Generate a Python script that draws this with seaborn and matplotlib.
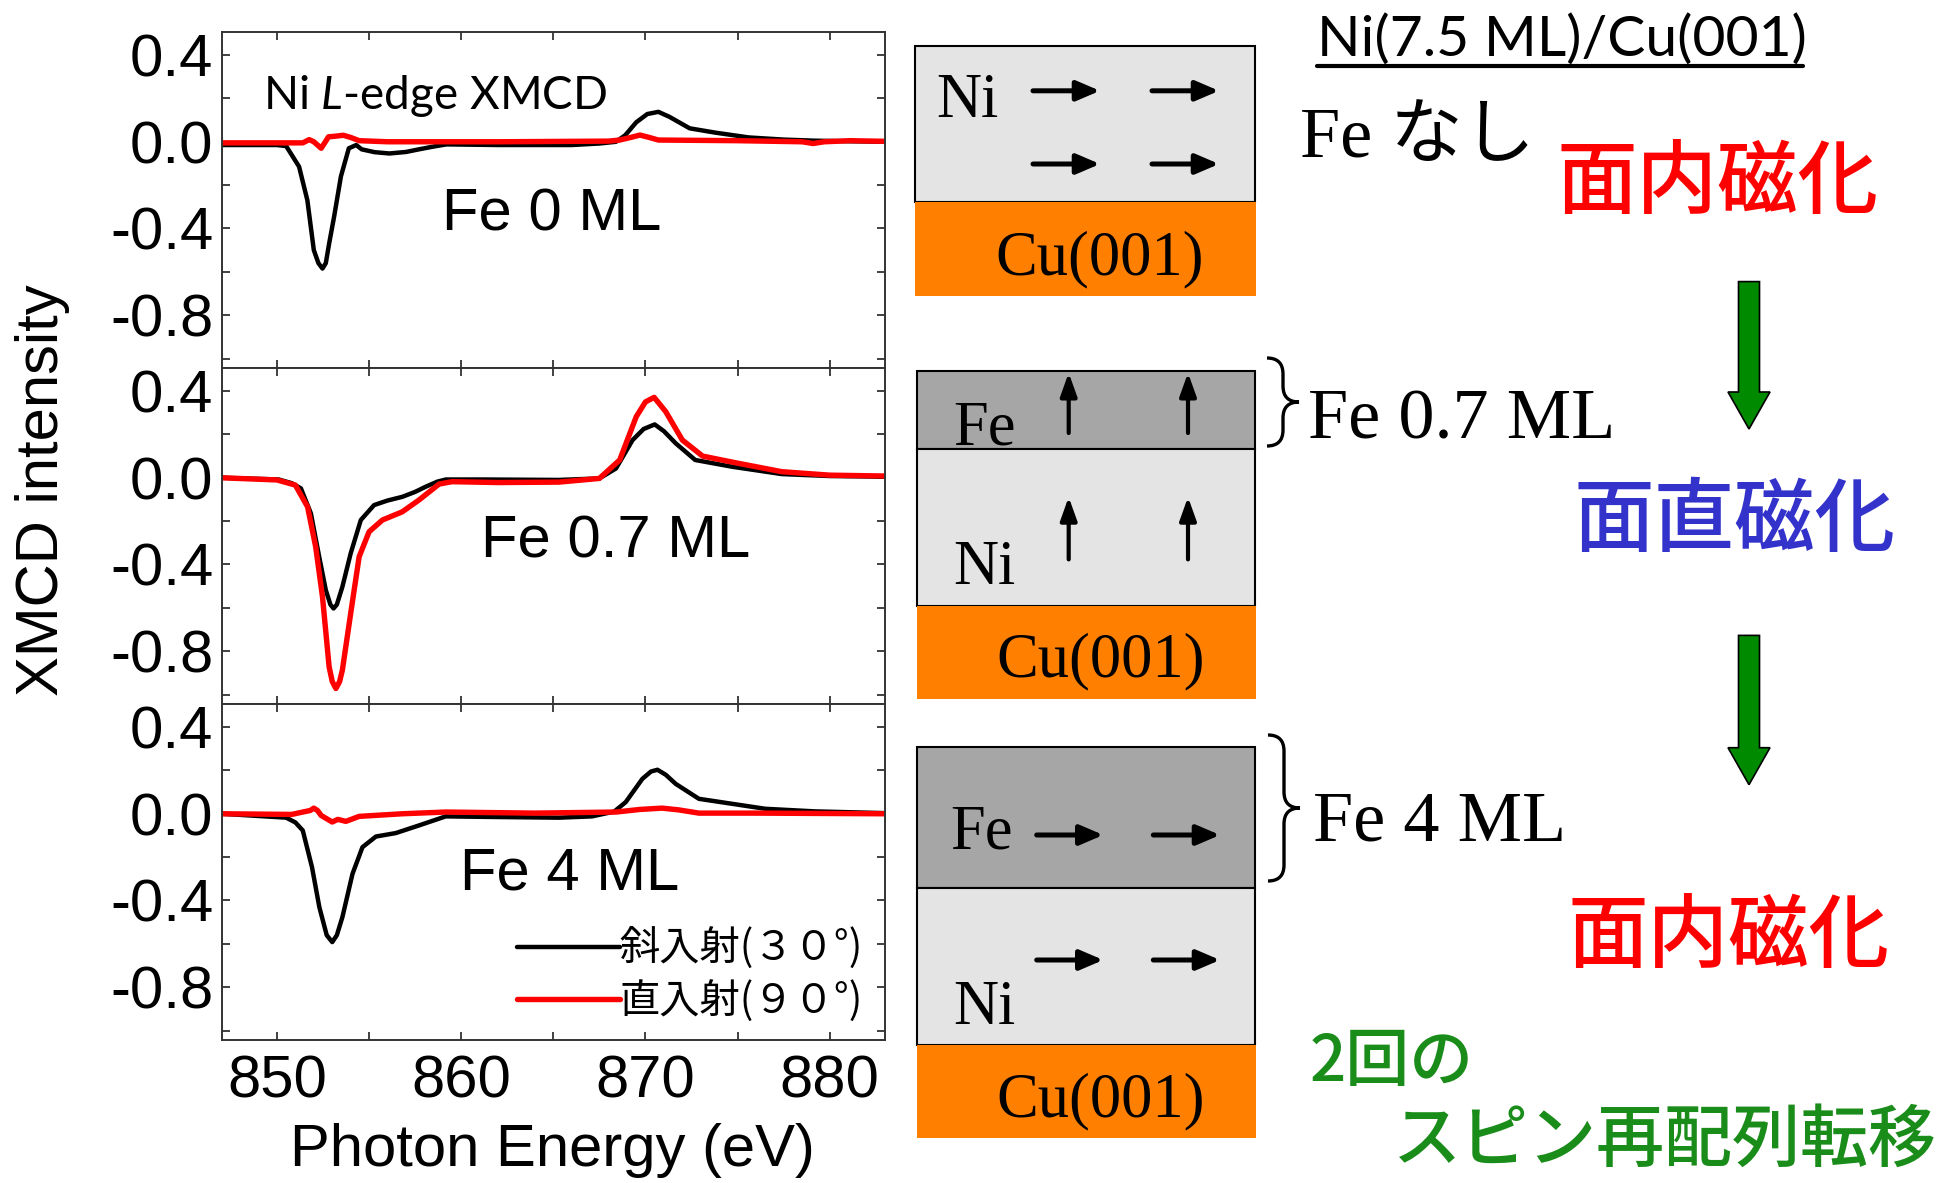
import matplotlib
matplotlib.use("Agg")
import matplotlib.pyplot as plt
from matplotlib.patches import Rectangle, FancyArrow, PathPatch
from matplotlib.path import Path
from matplotlib.ticker import MultipleLocator
import seaborn as sns

# Fe 0 ML : oblique (30 deg) and normal (90 deg) incidence
e0_obl = [847, 850.0, 850.5, 851.2, 851.65, 852.0, 852.25, 852.47, 852.65, 852.83,
          853.1, 853.47, 853.9, 854.3, 854.6, 855.3, 856.1, 857.0, 857.7, 858.5,
          859.2, 862, 866, 867.5, 868.4, 868.9, 869.5, 870.1, 870.7, 871.3,
          872.4, 873.8, 875.6, 877.5, 879.2, 883]
y0_obl = [-0.015, -0.015, -0.02, -0.115, -0.27, -0.50, -0.56, -0.585, -0.56, -0.47,
          -0.346, -0.16, -0.03, -0.015, -0.035, -0.048, -0.054, -0.047, -0.035, -0.022,
          -0.012, -0.015, -0.015, -0.008, 0.0, 0.03, 0.09, 0.128, 0.138, 0.115,
          0.062, 0.042, 0.02, 0.01, 0.005, 0.0]
e0_nor = [847, 851.0, 851.4, 851.75, 852.0, 852.4, 852.8, 853.1, 853.6, 854.0,
          854.46, 856, 862, 868.0, 868.6, 869.2, 869.7, 870.2, 870.7, 875,
          878.5, 879.1, 879.7, 881.1, 883]
y0_nor = [-0.005, -0.005, -0.005, 0.01, 0.0, -0.03, 0.023, 0.025, 0.03, 0.02,
          0.005, 0.0, 0.0, 0.003, 0.008, 0.02, 0.031, 0.02, 0.008, 0.005,
          0.0, -0.008, 0.0, 0.005, 0.002]

# Fe 0.7 ML
e07_obl = [847, 850.1, 850.8, 851.3, 851.84, 852.29, 852.65, 852.9, 853.07, 853.25,
           853.55, 854.0, 854.55, 855.27, 856.0, 856.8, 857.5, 858.08, 858.7, 859.16,
           861.3, 865.3, 867.5, 868.4, 869.3, 869.9, 870.5, 871.0, 871.64, 872.7,
           874.7, 877.4, 880, 883]
y07_obl = [0.0, -0.008, -0.025, -0.049, -0.164, -0.364, -0.518, -0.585, -0.603, -0.585,
           -0.503, -0.349, -0.195, -0.126, -0.105, -0.088, -0.065, -0.041, -0.018, -0.008,
           -0.008, -0.01, -0.003, 0.043, 0.174, 0.225, 0.246, 0.215, 0.159, 0.082,
           0.051, 0.017, 0.008, 0.005]
e07_nor = [847, 850.0, 851.0, 851.66, 852.1, 852.47, 852.83, 853.0, 853.2, 853.4,
           853.55, 854.0, 854.46, 855.0, 855.72, 856.8, 857.7, 858.8, 859.5, 862,
           865.3, 867.5, 868.6, 869.5, 870.0, 870.47, 871.1, 872.0, 873.1, 874.9,
           877.4, 880, 883]
y07_nor = [0.0, -0.01, -0.034, -0.134, -0.318, -0.549, -0.872, -0.94, -0.972, -0.94,
           -0.887, -0.626, -0.364, -0.249, -0.195, -0.157, -0.103, -0.029, -0.018, -0.022,
           -0.02, -0.003, 0.082, 0.282, 0.35, 0.371, 0.305, 0.174, 0.1, 0.069,
           0.028, 0.012, 0.008]

# Fe 4 ML
e4_obl = [847, 850.5, 851.0, 851.4, 851.9, 852.3, 852.7, 853.0, 853.25, 853.55,
          854.1, 854.64, 855.37, 856.45, 857.7, 859.16, 862, 865.3, 867.1, 868.3,
          868.93, 869.83, 870.3, 870.65, 871.1, 871.64, 872.9, 874.7, 876.5, 879.2, 883]
y4_obl = [0.0, -0.018, -0.04, -0.077, -0.246, -0.431, -0.56, -0.592, -0.56, -0.477,
          -0.277, -0.154, -0.105, -0.089, -0.054, -0.012, -0.015, -0.018, -0.012, 0.01,
          0.054, 0.161, 0.195, 0.203, 0.18, 0.138, 0.069, 0.046, 0.023, 0.011, 0.003]
e4_nor = [847, 850.8, 851.4, 851.8, 852.0, 852.2, 852.4, 853.0, 853.3, 853.74,
          854.46, 856.8, 859.16, 864, 868.4, 869.7, 870.9, 871.8, 872.9, 876, 883]
y4_nor = [0.0, -0.003, 0.008, 0.015, 0.026, 0.015, -0.008, -0.038, -0.026, -0.035,
          -0.012, 0.0, 0.008, 0.003, 0.008, 0.02, 0.026, 0.018, 0.003, 0.003, 0.0]

panel_labels = ["Fe 0 ML", "Fe 0.7 ML", "Fe 4 ML"]
legend_labels = ["斜入射(３０°)", "直入射(９０°)"]
y_ticks = [-0.8, -0.4, 0.0, 0.4]
y_ticklabels = ["-0.8", "-0.4", "0.0", "0.4"]

sns.set_theme(style="ticks")
plt.rcParams["font.family"] = ["Liberation Sans", "Noto Sans CJK JP", "DejaVu Sans"]
plt.rcParams["mathtext.fontset"] = "custom"
plt.rcParams["mathtext.rm"] = "Lato"
plt.rcParams["mathtext.it"] = "Lato:italic"
for k in ("text.color", "axes.labelcolor", "xtick.color", "ytick.color"):
    plt.rcParams[k] = "black"

W, H = 1944, 1183
fig = plt.figure(figsize=(W / 100, H / 100), dpi=100)

left, right = 221.7, 885
top0, ph = 32.3, 336
panels = [(e0_obl, y0_obl, e0_nor, y0_nor),
          (e07_obl, y07_obl, e07_nor, y07_nor),
          (e4_obl, y4_obl, e4_nor, y4_nor)]
label_pos = [(864.9, -0.336), (868.4, -0.297), (865.9, -0.28)]

axes = []
for i, (eo, yo, en, yn) in enumerate(panels):
    yt = top0 + i * ph
    ax = fig.add_axes([left / W, 1 - (yt + ph) / H, (right - left) / W, ph / H])
    sns.lineplot(x=eo, y=yo, ax=ax, color="black", linewidth=3.2, label=legend_labels[0])
    sns.lineplot(x=en, y=yn, ax=ax, color="red", linewidth=3.9, label=legend_labels[1])
    if ax.get_legend() is not None:
        ax.get_legend().remove()
    ax.set_xlim(847, 883)
    ax.set_ylim(-1.045, 0.505)
    ax.set_yticks(y_ticks)
    ax.set_yticklabels(y_ticklabels)
    ax.yaxis.set_minor_locator(MultipleLocator(0.2))
    ax.xaxis.set_major_locator(MultipleLocator(10))
    ax.xaxis.set_minor_locator(MultipleLocator(5))
    ax.tick_params(which="both", direction="in", top=True, right=True,
                   length=6, width=1.3, color="#333333", labelsize=43)
    ax.tick_params(axis="y", pad=6)
    ax.tick_params(axis="x", pad=10)
    for sp in ax.spines.values():
        sp.set_color("#333333")
        sp.set_linewidth(1.4)
    ax.set_xlabel("")
    ax.set_ylabel("")
    if i < 2:
        ax.tick_params(labelbottom=False)
    lx, ly = label_pos[i]
    ax.text(lx, ly, panel_labels[i], ha="center", va="center", fontsize=43)
    axes.append(ax)

axes[0].text(849.25, 0.213, r"Ni $\mathit{L}$-edge XMCD", ha="left", va="center",
             fontsize=33, family="Lato")

h, l = axes[2].get_legend_handles_labels()
axes[2].legend(h, l, loc="center left", bbox_to_anchor=(517 / W, 1 - 975 / H),
               bbox_transform=fig.transFigure, frameon=False, handlelength=2.55,
               handletextpad=0.0, borderpad=0, borderaxespad=0, labelspacing=0.25,
               prop={"family": ["Noto Sans CJK JP", "DejaVu Sans"], "size": 29})

fig.text(43 / W, 1 - 490 / H, "XMCD intensity", rotation=90, ha="center",
         va="center", fontsize=43)
fig.text(552 / W, 1 - 1151 / H, "Photon Energy (eV)", ha="center", va="center",
         fontsize=43)

# ---- schematic on the right ----
ov = fig.add_axes([0, 0, 1, 1])
ov.set_xlim(0, W)
ov.set_ylim(H, 0)
ov.axis("off")

ni_c, fe_c, cu_c = "#e4e4e4", "#a6a6a6", "#ff7f00"
serif = ["Liberation Serif", "Noto Sans CJK JP"]


def box(x0, y0, x1, y1, fc, edge=True):
    ov.add_patch(Rectangle((x0, y0), x1 - x0, y1 - y0, facecolor=fc,
                           edgecolor="black" if edge else "none", linewidth=1.5))


def arrow(x0, y0, x1, y1, lw=3.6, hw=0.3):
    ov.annotate("", xy=(x1, y1), xytext=(x0, y0),
                arrowprops=dict(arrowstyle=f"-|>,head_length=0.7,head_width={hw}",
                                lw=lw, color="black", shrinkA=0, shrinkB=0,
                                mutation_scale=20))


def brace(x, y0, y1, w=32, r=16):
    ym = (y0 + y1) / 2
    xm = x + w / 2
    verts = [(x, y0), (xm, y0), (xm, y0 + r), (xm, ym - r), (xm, ym), (x + w, ym),
             (xm, ym), (xm, ym + r), (xm, y1 - r), (xm, y1), (x, y1)]
    codes = [Path.MOVETO, Path.CURVE3, Path.CURVE3, Path.LINETO, Path.CURVE3, Path.CURVE3,
             Path.CURVE3, Path.CURVE3, Path.LINETO, Path.CURVE3, Path.CURVE3]
    ov.add_patch(PathPatch(Path(verts, codes), fill=False, lw=2.4, color="black"))


# box 1 : Ni on Cu
box(915.3, 46, 1254.7, 202, ni_c)
box(915.3, 202, 1256, 296, cu_c, edge=False)
ov.text(936.7, 116.8, "Ni", family=serif, fontsize=45, va="baseline")
ov.text(995.3, 274, "Cu(001)", family=serif, fontsize=45, va="baseline")
for yy in (90.8, 164):
    arrow(1033, yy, 1100, yy)
    arrow(1152, yy, 1219, yy)

# box 2 : Fe 0.7 ML
box(916.7, 371, 1255.3, 449, fe_c)
box(916.7, 449, 1255.3, 605.6, ni_c)
box(916.7, 605.6, 1256, 699, cu_c, edge=False)
ov.text(953.3, 444, "Fe", family=serif, fontsize=45, va="baseline")
ov.text(953.3, 584, "Ni", family=serif, fontsize=45, va="baseline")
ov.text(996.7, 676.5, "Cu(001)", family=serif, fontsize=45, va="baseline")
for xx in (1068.7, 1188):
    arrow(xx, 433, xx, 372.8, lw=3.0, hw=0.25)
    arrow(xx, 559.4, xx, 497, lw=3.0, hw=0.25)

# box 3 : Fe 4 ML
box(916.7, 746.6, 1255.3, 888, fe_c)
box(916.7, 888, 1255.3, 1044.8, ni_c)
box(916.7, 1044.8, 1256, 1138, cu_c, edge=False)
ov.text(950, 848, "Fe", family=serif, fontsize=45, va="baseline")
ov.text(953.3, 1023.5, "Ni", family=serif, fontsize=45, va="baseline")
ov.text(996.7, 1116.8, "Cu(001)", family=serif, fontsize=45, va="baseline")
for yy in (835, 960):
    arrow(1036.7, yy, 1103.3, yy)
    arrow(1153.3, yy, 1220, yy)

brace(1267, 358, 446)
brace(1268, 735, 881)

ov.text(1316.7, 55.5, "Ni(7.5 ML)/Cu(001)", family="Lato", fontsize=41, va="baseline")
ov.plot([1316.7, 1803], [66, 66], color="black", lw=3)
ov.text(1300, 157, "Fe なし", family=serif, fontsize=52, va="baseline")
ov.text(1308, 438.7, "Fe 0.7 ML", family=serif, fontsize=52, va="baseline")
ov.text(1313, 840.6, "Fe 4 ML", family=serif, fontsize=52, va="baseline")

cjk = ["Noto Sans CJK JP", "DejaVu Sans"]
ov.text(1718, 183, "面内磁化", family=cjk, fontsize=58, fontweight="medium",
        color="#ff0000", ha="center", va="center")
ov.text(1735, 521, "面直磁化", family=cjk, fontsize=58, fontweight="medium",
        color="#3333cc", ha="center", va="center")
ov.text(1729, 937, "面内磁化", family=cjk, fontsize=58, fontweight="medium",
        color="#ff0000", ha="center", va="center")
ov.text(1310, 1063, "2回の", family=cjk, fontsize=46, fontweight="medium",
        color="#1a8c1a", ha="left", va="center")
ov.text(1393, 1141, "スピン再配列転移", family=cjk, fontsize=49, fontweight="medium",
        color="#1a8c1a", ha="left", va="center")

for y_start, y_tip in ((281.6, 429), (635.4, 784.7)):
    ov.add_patch(FancyArrow(1749, y_start, 0, y_tip - y_start, width=21, head_width=42,
                            head_length=37, length_includes_head=True,
                            facecolor="#008a00", edgecolor="black", linewidth=1.2))

fig.savefig("out.png", dpi=100)
